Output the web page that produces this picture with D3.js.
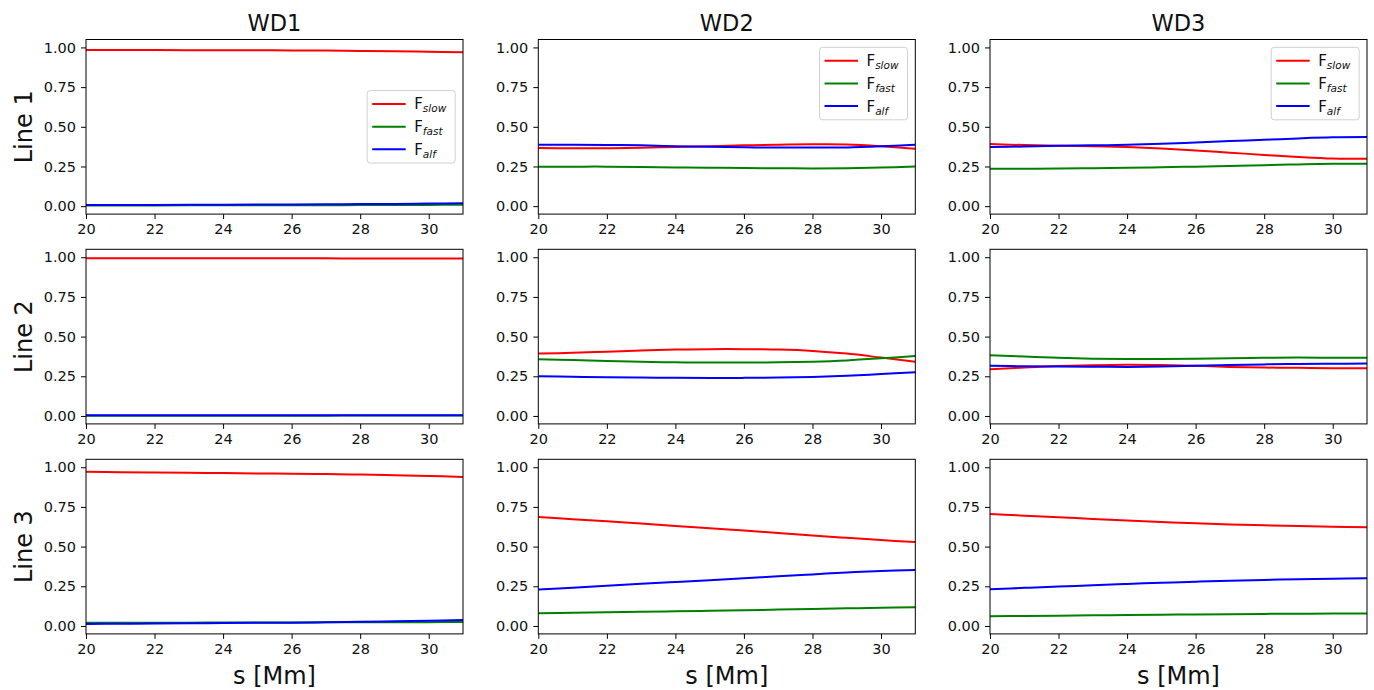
<!DOCTYPE html>
<html>
<head>
<meta charset="utf-8">
<script src="https://cdn.jsdelivr.net/npm/d3@7"></script>
<style>
  html, body { margin: 0; padding: 0; background: #fff; }
  svg { display: block; font-family: "DejaVu Sans", sans-serif; }
</style>
</head>
<body>
<svg id="chart" width="1374" height="690"></svg>
<script>
// Position along the loop, s [Mm]
const sValues = [20, 21, 22, 23, 24, 25, 26, 27, 28, 29, 30, 31];

// Column titles and row labels
const columnTitles = ["WD1", "WD2", "WD3"];
const rowLabels = ["Line 1", "Line 2", "Line 3"];

// Tick values
const xTicks = [20, 22, 24, 26, 28, 30];
const yTicks = [0, 0.25, 0.5, 0.75, 1.0];

// Legend entries
const seriesNames = ["slow", "fast", "alf"];
const seriesColors = ["#ff0000", "#008000", "#0000ff"];

// Line 1
const line1Wd1Slow = [0.984, 0.984, 0.984, 0.983, 0.983, 0.982, 0.981, 0.980, 0.978, 0.976, 0.973, 0.970];
const line1Wd1Fast = [0.004, 0.004, 0.004, 0.005, 0.005, 0.005, 0.006, 0.006, 0.007, 0.007, 0.008, 0.009];
const line1Wd1Alf  = [0.008, 0.008, 0.008, 0.009, 0.009, 0.010, 0.011, 0.012, 0.013, 0.014, 0.016, 0.018];

const line1Wd2Slow = [0.366, 0.365, 0.365, 0.368, 0.373, 0.378, 0.383, 0.387, 0.390, 0.389, 0.378, 0.362];
const line1Wd2Fast = [0.249, 0.249, 0.249, 0.247, 0.244, 0.242, 0.240, 0.239, 0.238, 0.239, 0.243, 0.250];
const line1Wd2Alf  = [0.387, 0.387, 0.386, 0.383, 0.378, 0.374, 0.371, 0.369, 0.369, 0.370, 0.377, 0.387];

const line1Wd3Slow = [0.391, 0.385, 0.380, 0.377, 0.372, 0.363, 0.351, 0.337, 0.323, 0.310, 0.300, 0.298];
const line1Wd3Fast = [0.235, 0.236, 0.237, 0.239, 0.242, 0.245, 0.249, 0.253, 0.258, 0.263, 0.267, 0.268];
const line1Wd3Alf  = [0.372, 0.376, 0.380, 0.383, 0.387, 0.393, 0.401, 0.410, 0.418, 0.427, 0.434, 0.436];

// Line 2
const line2Wd1Slow = [0.993, 0.993, 0.993, 0.993, 0.993, 0.993, 0.993, 0.993, 0.992, 0.992, 0.992, 0.992];
const line2Wd1Fast = [0.002, 0.002, 0.002, 0.002, 0.002, 0.002, 0.002, 0.002, 0.003, 0.003, 0.003, 0.003];
const line2Wd1Alf  = [0.005, 0.005, 0.005, 0.005, 0.005, 0.005, 0.005, 0.005, 0.005, 0.005, 0.005, 0.005];

const line2Wd2Slow = [0.393, 0.398, 0.405, 0.412, 0.418, 0.421, 0.421, 0.418, 0.410, 0.393, 0.368, 0.342];
const line2Wd2Fast = [0.357, 0.352, 0.346, 0.341, 0.338, 0.337, 0.337, 0.338, 0.342, 0.350, 0.363, 0.378];
const line2Wd2Alf  = [0.250, 0.247, 0.244, 0.242, 0.240, 0.239, 0.240, 0.242, 0.246, 0.253, 0.264, 0.275];

const line2Wd3Slow = [0.294, 0.305, 0.314, 0.320, 0.323, 0.321, 0.316, 0.309, 0.305, 0.303, 0.301, 0.300];
const line2Wd3Fast = [0.382, 0.374, 0.366, 0.361, 0.359, 0.359, 0.361, 0.364, 0.367, 0.368, 0.367, 0.366];
const line2Wd3Alf  = [0.317, 0.313, 0.311, 0.310, 0.309, 0.311, 0.316, 0.321, 0.325, 0.328, 0.329, 0.330];

// Line 3
const line3Wd1Slow = [0.971, 0.969, 0.967, 0.965, 0.963, 0.961, 0.959, 0.957, 0.954, 0.950, 0.945, 0.939];
const line3Wd1Fast = [0.021, 0.021, 0.021, 0.021, 0.022, 0.022, 0.022, 0.023, 0.023, 0.024, 0.024, 0.025];
const line3Wd1Alf  = [0.013, 0.014, 0.015, 0.017, 0.018, 0.020, 0.021, 0.023, 0.026, 0.029, 0.033, 0.038];

const line3Wd2Slow = [0.687, 0.673, 0.659, 0.645, 0.630, 0.616, 0.602, 0.586, 0.570, 0.555, 0.541, 0.529];
const line3Wd2Fast = [0.080, 0.083, 0.086, 0.089, 0.092, 0.096, 0.099, 0.103, 0.107, 0.111, 0.115, 0.118];
const line3Wd2Alf  = [0.229, 0.241, 0.254, 0.266, 0.277, 0.288, 0.300, 0.313, 0.325, 0.337, 0.347, 0.353];

const line3Wd3Slow = [0.706, 0.695, 0.685, 0.674, 0.664, 0.655, 0.647, 0.640, 0.634, 0.629, 0.625, 0.622];
const line3Wd3Fast = [0.061, 0.063, 0.065, 0.067, 0.069, 0.071, 0.072, 0.074, 0.076, 0.077, 0.078, 0.078];
const line3Wd3Alf  = [0.231, 0.240, 0.248, 0.257, 0.265, 0.272, 0.279, 0.285, 0.290, 0.295, 0.298, 0.300];

// Panel grid: [row][col] -> [slow, fast, alf]
const panels = [
  [[line1Wd1Slow, line1Wd1Fast, line1Wd1Alf], [line1Wd2Slow, line1Wd2Fast, line1Wd2Alf], [line1Wd3Slow, line1Wd3Fast, line1Wd3Alf]],
  [[line2Wd1Slow, line2Wd1Fast, line2Wd1Alf], [line2Wd2Slow, line2Wd2Fast, line2Wd2Alf], [line2Wd3Slow, line2Wd3Fast, line2Wd3Alf]],
  [[line3Wd1Slow, line3Wd1Fast, line3Wd1Alf], [line3Wd2Slow, line3Wd2Fast, line3Wd2Alf], [line3Wd3Slow, line3Wd3Fast, line3Wd3Alf]]
];

// Legend placement per panel (null = none)
const legendPlacement = [
  ["center right", "upper right", "upper right"],
  [null, null, null],
  [null, null, null]
];

// ---- layout ----
const colX = [86, 538.3, 990];
const rowY = [39.5, 249.3, 459.3];
const panelW = 377;
const panelH = 174.6;
const tickFont = 14.5;

const svg = d3.select("#chart");
const defs = svg.append("defs");

const x = d3.scaleLinear().domain([20, 31]).range([0, panelW]);
const y = d3.scaleLinear().domain([-0.05, 1.05]).range([panelH, 0]);

const lineGen = d3.line()
  .x((d, i) => x(sValues[i]))
  .y(d => y(d))
  .curve(d3.curveCatmullRom.alpha(0.5));

function styleAxis(g) {
  g.attr("font-family", "DejaVu Sans, sans-serif").attr("font-size", tickFont);
  g.select(".domain").remove();
  g.selectAll(".tick line").attr("stroke", "#000").attr("stroke-width", 1);
  g.selectAll(".tick text").attr("fill", "#111");
}

panels.forEach((row, r) => {
  row.forEach((series, c) => {
    const g = svg.append("g").attr("transform", `translate(${colX[c]},${rowY[r]})`);
    const clipId = `clip-${r}-${c}`;
    defs.append("clipPath").attr("id", clipId)
      .append("rect").attr("width", panelW).attr("height", panelH);

    // axes
    g.append("g")
      .attr("transform", `translate(0,${panelH})`)
      .call(d3.axisBottom(x).tickValues(xTicks).tickSize(5).tickPadding(5).tickFormat(d3.format("d")))
      .call(styleAxis);
    g.append("g")
      .call(d3.axisLeft(y).tickValues(yTicks).tickSize(5).tickPadding(5).tickFormat(d3.format(".2f")))
      .call(styleAxis);

    // curves
    const lines = g.append("g").attr("clip-path", `url(#${clipId})`);
    series.forEach((vals, k) => {
      lines.append("path")
        .datum(vals)
        .attr("d", lineGen)
        .attr("fill", "none")
        .attr("stroke", seriesColors[k])
        .attr("stroke-width", 2)
        .attr("stroke-linejoin", "round");
    });

    // frame
    g.append("rect")
      .attr("width", panelW).attr("height", panelH)
      .attr("fill", "none").attr("stroke", "#000").attr("stroke-width", 1);

    // legend
    const place = legendPlacement[r][c];
    if (place) {
      const lw = 88, lh = 72.5, pad = 7.8;
      const lx = panelW - pad - lw;
      const ly = place === "upper right" ? pad : (panelH - lh) / 2;
      const lg = g.append("g").attr("transform", `translate(${lx},${ly})`);
      lg.append("rect")
        .attr("width", lw).attr("height", lh)
        .attr("rx", 3).attr("ry", 3)
        .attr("fill", "#fff").attr("fill-opacity", 0.8)
        .attr("stroke", "#d0d0d0").attr("stroke-width", 1);
      seriesNames.forEach((name, k) => {
        const cy = 13.4 + k * 22.7;
        lg.append("line")
          .attr("x1", 5).attr("x2", 38.5)
          .attr("y1", cy).attr("y2", cy)
          .attr("stroke", seriesColors[k]).attr("stroke-width", 2);
        const t = lg.append("text")
          .attr("x", 47).attr("y", cy + 5.5)
          .attr("font-size", 15).attr("fill", "#111");
        t.append("tspan").text("F");
        t.append("tspan").attr("dy", 3).attr("font-size", 10.5).attr("font-style", "italic").text(name);
      });
    }
  });
});

// column titles
columnTitles.forEach((t, c) => {
  svg.append("text")
    .attr("x", colX[c] + panelW / 2).attr("y", 30.5)
    .attr("text-anchor", "middle")
    .attr("font-size", 22.5).attr("fill", "#111")
    .text(t);
});

// row labels
rowLabels.forEach((t, r) => {
  svg.append("text")
    .attr("transform", `translate(31.5,${rowY[r] + panelH / 2}) rotate(-90)`)
    .attr("text-anchor", "middle")
    .attr("font-size", 24).attr("fill", "#111")
    .text(t);
});

// x-axis labels
colX.forEach(cx => {
  svg.append("text")
    .attr("x", cx + panelW / 2).attr("y", 684)
    .attr("text-anchor", "middle")
    .attr("font-size", 24).attr("fill", "#111")
    .text("s [Mm]");
});
</script>
</body>
</html>
